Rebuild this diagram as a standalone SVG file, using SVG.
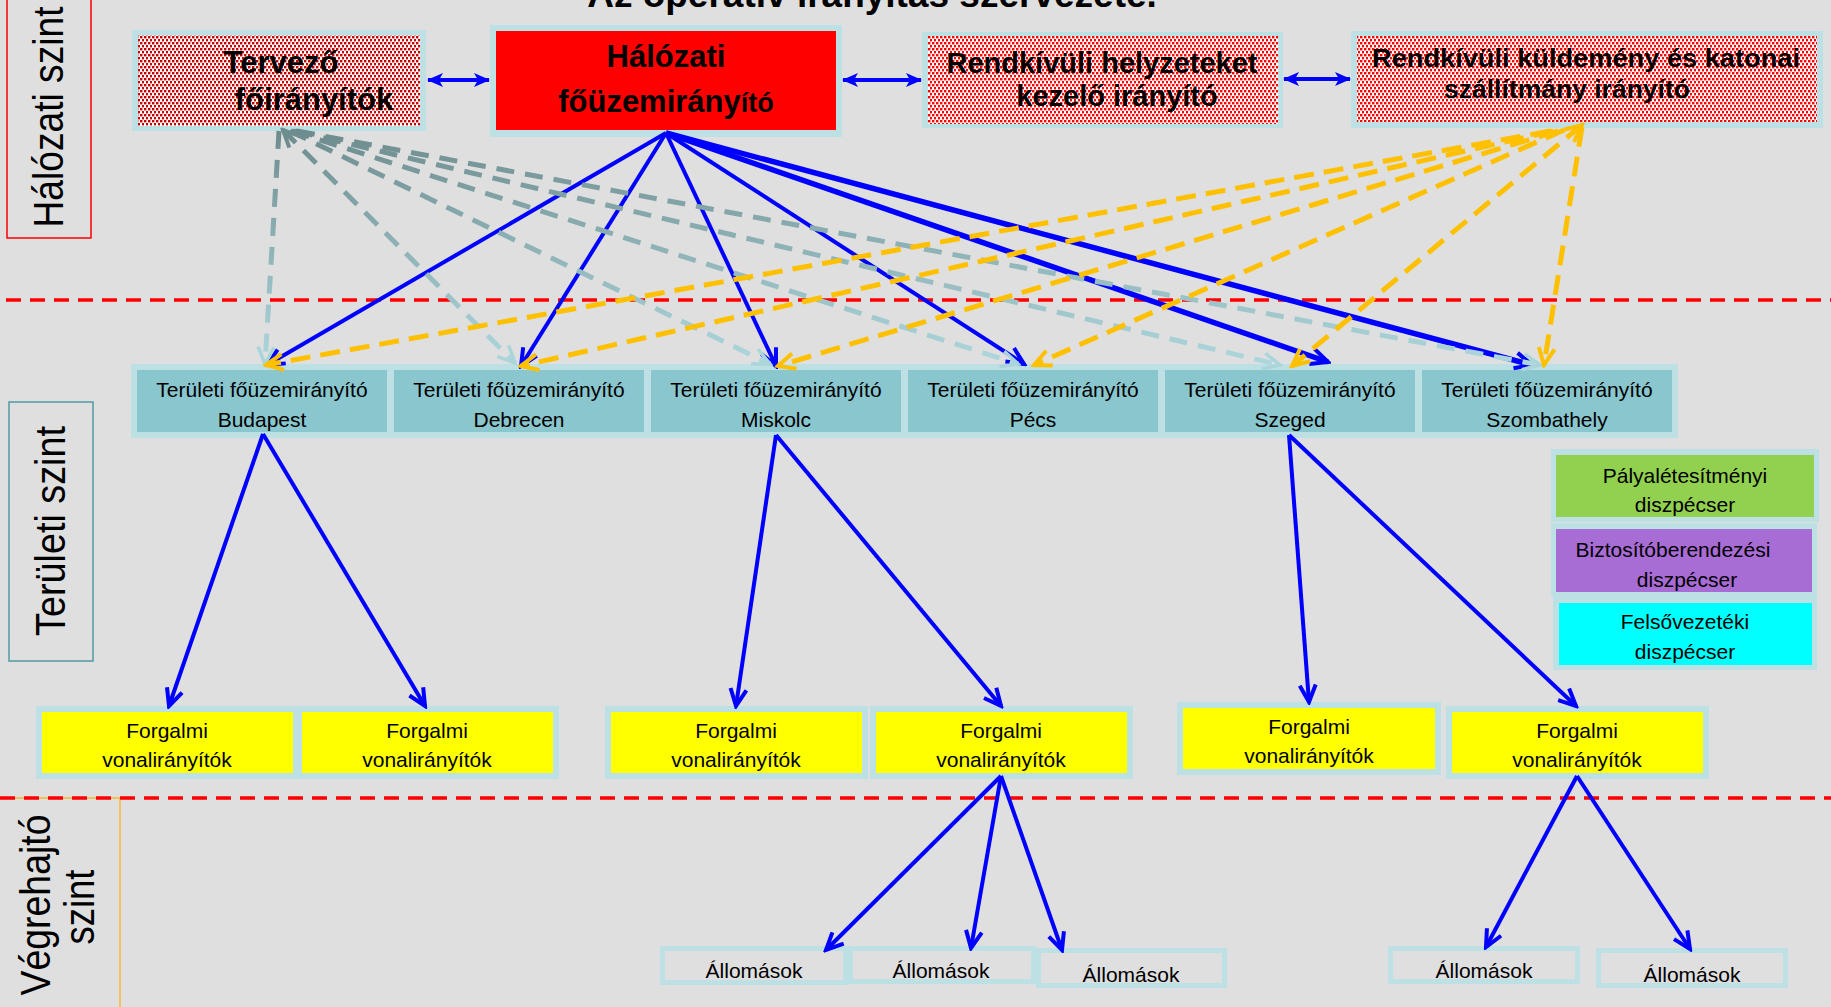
<svg xmlns="http://www.w3.org/2000/svg" width="1831" height="1007" viewBox="0 0 1831 1007">
<defs>
<style>
text{font-family:"Liberation Sans",Arial,sans-serif;fill:#000}
.b{font-weight:bold}
.t21{font-size:21px}
.bd{fill:#BDE0E4}
.lvl{fill:none;stroke:#FF0000;stroke-width:3.5;stroke-dasharray:15 9}
.blue{stroke:#0000FF;stroke-width:4;fill:none;marker-end:url(#ab)}
.blue5{stroke-width:5.5}
.dbl{stroke:#0000FF;stroke-width:4;marker-start:url(#af);marker-end:url(#af)}
.gr{fill:none;stroke-width:5;stroke-dasharray:18 11;marker-end:url(#ge)}
.gs{marker-start:url(#gs)}
.or{fill:none;stroke:#FFC000;stroke-width:5;stroke-dasharray:20 10;marker-end:url(#oe)}
.os{marker-start:url(#os)}
</style>
<pattern id="pd" width="4" height="6" patternUnits="userSpaceOnUse">
<rect width="4" height="6" fill="#FFFFFF"/><rect x="0" y="0" width="2.4" height="2.4" fill="#C80000"/><rect x="2" y="3" width="2.4" height="2.4" fill="#C80000"/>
</pattern>
<pattern id="pr" width="4" height="6" patternUnits="userSpaceOnUse">
<rect width="4" height="6" fill="#FFFFFF"/><rect x="0" y="0" width="2.4" height="2.4" fill="#FF0000"/><rect x="2" y="3" width="2.4" height="2.4" fill="#FF0000"/>
</pattern>
<marker id="ab" viewBox="0 0 22 20" refX="19" refY="10" markerWidth="22" markerHeight="20" markerUnits="userSpaceOnUse" orient="auto">
<path d="M2,2 L19,10 L2,18" fill="none" stroke="#0000FF" stroke-width="4" stroke-dasharray="none"/>
</marker>
<marker id="af" viewBox="0 0 16 16" refX="15" refY="8" markerWidth="16" markerHeight="16" markerUnits="userSpaceOnUse" orient="auto-start-reverse">
<path d="M0,1 L16,8 L0,15 L4,8 z" fill="#0000FF"/>
</marker>
<marker id="ge" viewBox="0 0 22 20" refX="19" refY="10" markerWidth="22" markerHeight="20" markerUnits="userSpaceOnUse" orient="auto">
<path d="M2,2 L19,10 L2,18" fill="none" stroke="#A9D5DB" stroke-width="3.5" stroke-dasharray="none"/>
</marker>
<marker id="gs" viewBox="0 0 22 20" refX="19" refY="10" markerWidth="22" markerHeight="20" markerUnits="userSpaceOnUse" orient="auto-start-reverse">
<path d="M2,2 L19,10 L2,18" fill="none" stroke="#6E8C8E" stroke-width="4" stroke-dasharray="none"/>
</marker>
<marker id="oe" viewBox="0 0 22 20" refX="19" refY="10" markerWidth="22" markerHeight="20" markerUnits="userSpaceOnUse" orient="auto">
<path d="M2,2 L19,10 L2,18" fill="none" stroke="#FFC000" stroke-width="4" stroke-dasharray="none"/>
</marker>
<marker id="os" viewBox="0 0 22 20" refX="19" refY="10" markerWidth="22" markerHeight="20" markerUnits="userSpaceOnUse" orient="auto-start-reverse">
<path d="M2,2 L19,10 L2,18" fill="none" stroke="#FFC000" stroke-width="4" stroke-dasharray="none"/>
</marker>
<linearGradient id="g1" gradientUnits="userSpaceOnUse" x1="279" y1="131" x2="265" y2="364"><stop offset="0" stop-color="#6E8C8E"/><stop offset="1" stop-color="#AED8DE"/></linearGradient>
<linearGradient id="g2" gradientUnits="userSpaceOnUse" x1="285" y1="131" x2="515" y2="363"><stop offset="0" stop-color="#6E8C8E"/><stop offset="1" stop-color="#AED8DE"/></linearGradient>
<linearGradient id="g3" gradientUnits="userSpaceOnUse" x1="290" y1="131" x2="770" y2="364"><stop offset="0" stop-color="#6E8C8E"/><stop offset="1" stop-color="#AED8DE"/></linearGradient>
<linearGradient id="g4" gradientUnits="userSpaceOnUse" x1="292" y1="131" x2="1018" y2="364"><stop offset="0" stop-color="#6E8C8E"/><stop offset="1" stop-color="#AED8DE"/></linearGradient>
<linearGradient id="g5" gradientUnits="userSpaceOnUse" x1="295" y1="131" x2="1280" y2="365"><stop offset="0" stop-color="#6E8C8E"/><stop offset="1" stop-color="#AED8DE"/></linearGradient>
<linearGradient id="g6" gradientUnits="userSpaceOnUse" x1="297" y1="131" x2="1540" y2="365"><stop offset="0" stop-color="#6E8C8E"/><stop offset="1" stop-color="#AED8DE"/></linearGradient>
</defs>

<rect width="1831" height="1007" fill="#DFDFDF"/>

<text class="b" x="872" y="7" font-size="37" text-anchor="middle">Az operatív irányítás szervezete.</text>

<g id="levels">
<line class="lvl" x1="6" y1="300" x2="1831" y2="300"/>
<rect x="-2" y="798" width="122" height="215" fill="none" stroke="#F5B731" stroke-width="1.5"/>
<line class="lvl" x1="0" y1="798" x2="1831" y2="798"/>
<rect x="7" y="-2" width="84" height="240" fill="none" stroke="#FF0000" stroke-width="1.5"/>
<text transform="translate(63,117) rotate(-90)" font-size="42" text-anchor="middle" textLength="221" lengthAdjust="spacingAndGlyphs">Hálózati szint</text>
<rect x="9" y="402" width="84" height="259" fill="none" stroke="#4F9AA3" stroke-width="1.5"/>
<text transform="translate(65,531) rotate(-90)" font-size="42" text-anchor="middle" textLength="210" lengthAdjust="spacingAndGlyphs">Területi szint</text>
<text transform="translate(50,905) rotate(-90)" font-size="42" text-anchor="middle" textLength="181" lengthAdjust="spacingAndGlyphs">Végrehajtó</text>
<text transform="translate(94,907) rotate(-90)" font-size="42" text-anchor="middle" textLength="75" lengthAdjust="spacingAndGlyphs">szint</text>
</g>

<g id="tervezo">
<rect class="bd" x="132" y="30" width="294" height="101"/>
<rect x="138" y="35" width="282" height="91" fill="url(#pd)"/>
<text class="b" x="281" y="73" font-size="31" text-anchor="middle">Tervező</text>
<text class="b" x="314" y="110" font-size="31" text-anchor="middle">főirányítók</text>
</g>
<g id="halozati">
<rect class="bd" x="490" y="25" width="352" height="112"/>
<rect x="496" y="31" width="340" height="99" fill="#FF0000"/>
<text class="b" x="666" y="67" font-size="31" text-anchor="middle">Hálózati</text>
<text class="b" x="666" y="112" font-size="31" text-anchor="middle">főüzemirány<tspan font-size="27">ító</tspan></text>
</g>
<g id="rendkivuli-helyzet">
<rect class="bd" x="922" y="32" width="361" height="96"/>
<rect x="928" y="36" width="350" height="88" fill="url(#pr)"/>
<text class="b" x="1102" y="73" font-size="29" text-anchor="middle">Rendkívüli helyzeteket</text>
<text class="b" x="1117" y="106" font-size="29" text-anchor="middle">kezelő irányító</text>
</g>
<g id="rendkivuli-kuldemeny">
<rect class="bd" x="1351" y="31" width="472" height="97"/>
<rect x="1357" y="36" width="460" height="86" fill="url(#pr)"/>
<text class="b" x="1586" y="67" font-size="26.5" text-anchor="middle" textLength="428" lengthAdjust="spacingAndGlyphs">Rendkívüli küldemény és katonai</text>
<text class="b" x="1567" y="98" font-size="26.5" text-anchor="middle">szállítmány irányító</text>
</g>

<g id="ter-budapest">
<rect class="bd" x="131" y="364" width="262" height="74"/><rect x="137" y="370" width="250" height="62" fill="#89C6CE"/>
<text class="t21" x="262" y="397" text-anchor="middle">Területi főüzemirányító</text><text class="t21" x="262" y="427" text-anchor="middle">Budapest</text>
</g>
<g id="ter-debrecen">
<rect class="bd" x="388" y="364" width="262" height="74"/><rect x="394" y="370" width="250" height="62" fill="#89C6CE"/>
<text class="t21" x="519" y="397" text-anchor="middle">Területi főüzemirányító</text><text class="t21" x="519" y="427" text-anchor="middle">Debrecen</text>
</g>
<g id="ter-miskolc">
<rect class="bd" x="645" y="364" width="262" height="74"/><rect x="651" y="370" width="250" height="62" fill="#89C6CE"/>
<text class="t21" x="776" y="397" text-anchor="middle">Területi főüzemirányító</text><text class="t21" x="776" y="427" text-anchor="middle">Miskolc</text>
</g>
<g id="ter-pecs">
<rect class="bd" x="902" y="364" width="262" height="74"/><rect x="908" y="370" width="250" height="62" fill="#89C6CE"/>
<text class="t21" x="1033" y="397" text-anchor="middle">Területi főüzemirányító</text><text class="t21" x="1033" y="427" text-anchor="middle">Pécs</text>
</g>
<g id="ter-szeged">
<rect class="bd" x="1159" y="364" width="262" height="74"/><rect x="1165" y="370" width="250" height="62" fill="#89C6CE"/>
<text class="t21" x="1290" y="397" text-anchor="middle">Területi főüzemirányító</text><text class="t21" x="1290" y="427" text-anchor="middle">Szeged</text>
</g>
<g id="ter-szombathely">
<rect class="bd" x="1416" y="364" width="262" height="74"/><rect x="1422" y="370" width="250" height="62" fill="#89C6CE"/>
<text class="t21" x="1547" y="397" text-anchor="middle">Területi főüzemirányító</text><text class="t21" x="1547" y="427" text-anchor="middle">Szombathely</text>
</g>

<g id="leg-palya">
<rect class="bd" x="1551" y="449" width="268" height="73"/><rect x="1556" y="455" width="258" height="62" fill="#92D050"/>
<text class="t21" x="1685" y="483" text-anchor="middle">Pályalétesítményi</text><text class="t21" x="1685" y="512" text-anchor="middle">diszpécser</text>
</g>
<g id="leg-bizt">
<rect class="bd" x="1551" y="523" width="266" height="74"/><rect x="1556" y="529" width="256" height="63" fill="#A86CD5"/>
<text class="t21" x="1673" y="557" text-anchor="middle">Biztosítóberendezési</text><text class="t21" x="1687" y="587" text-anchor="middle">diszpécser</text>
</g>
<g id="leg-felso">
<rect class="bd" x="1553" y="597" width="264" height="73"/><rect x="1559" y="603" width="253" height="62" fill="#00FFFF"/>
<text class="t21" x="1685" y="629" text-anchor="middle">Felsővezetéki</text><text class="t21" x="1685" y="659" text-anchor="middle">diszpécser</text>
</g>

<g id="forg-1"><rect class="bd" x="36" y="706" width="263" height="73"/><rect x="42" y="712" width="251" height="61" fill="#FFFF00"/>
<text class="t21" x="167" y="738" text-anchor="middle">Forgalmi</text><text class="t21" x="167" y="767" text-anchor="middle">vonalirányítók</text></g>
<g id="forg-2"><rect class="bd" x="296" y="706" width="263" height="73"/><rect x="302" y="712" width="251" height="61" fill="#FFFF00"/>
<text class="t21" x="427" y="738" text-anchor="middle">Forgalmi</text><text class="t21" x="427" y="767" text-anchor="middle">vonalirányítók</text></g>
<g id="forg-3"><rect class="bd" x="605" y="706" width="263" height="73"/><rect x="611" y="712" width="251" height="61" fill="#FFFF00"/>
<text class="t21" x="736" y="738" text-anchor="middle">Forgalmi</text><text class="t21" x="736" y="767" text-anchor="middle">vonalirányítók</text></g>
<g id="forg-4"><rect class="bd" x="870" y="706" width="263" height="73"/><rect x="876" y="712" width="251" height="61" fill="#FFFF00"/>
<text class="t21" x="1001" y="738" text-anchor="middle">Forgalmi</text><text class="t21" x="1001" y="767" text-anchor="middle">vonalirányítók</text></g>
<g id="forg-5"><rect class="bd" x="1177" y="702" width="264" height="73"/><rect x="1183" y="708" width="252" height="61" fill="#FFFF00"/>
<text class="t21" x="1309" y="734" text-anchor="middle">Forgalmi</text><text class="t21" x="1309" y="763" text-anchor="middle">vonalirányítók</text></g>
<g id="forg-6"><rect class="bd" x="1446" y="706" width="263" height="73"/><rect x="1452" y="712" width="251" height="61" fill="#FFFF00"/>
<text class="t21" x="1577" y="738" text-anchor="middle">Forgalmi</text><text class="t21" x="1577" y="767" text-anchor="middle">vonalirányítók</text></g>

<g id="all-1"><rect class="bd" x="660" y="946" width="188" height="39"/><rect x="665" y="951" width="178" height="29" fill="#DFDFDF"/><text class="t21" x="754" y="978" text-anchor="middle">Állomások</text></g>
<g id="all-2"><rect class="bd" x="848" y="946" width="188" height="38"/><rect x="853" y="951" width="178" height="28" fill="#DFDFDF"/><text class="t21" x="941" y="978" text-anchor="middle">Állomások</text></g>
<g id="all-3"><rect class="bd" x="1036" y="948" width="191" height="40"/><rect x="1041" y="953" width="181" height="30" fill="#DFDFDF"/><text class="t21" x="1131" y="982" text-anchor="middle">Állomások</text></g>
<g id="all-4"><rect class="bd" x="1388" y="946" width="192" height="38"/><rect x="1393" y="951" width="182" height="28" fill="#DFDFDF"/><text class="t21" x="1484" y="978" text-anchor="middle">Állomások</text></g>
<g id="all-5"><rect class="bd" x="1596" y="948" width="192" height="40"/><rect x="1601" y="953" width="182" height="30" fill="#DFDFDF"/><text class="t21" x="1692" y="982" text-anchor="middle">Állomások</text></g>

<g id="connectors">
<line class="dbl" x1="428" y1="80" x2="489" y2="80"/>
<line class="dbl" x1="843" y1="80" x2="921" y2="80"/>
<line class="dbl" x1="1284" y1="79" x2="1350" y2="79"/>

<line class="blue" x1="666" y1="133" x2="267" y2="365"/>
<line class="blue" x1="666" y1="133" x2="521" y2="366"/>
<line class="blue" x1="666" y1="133" x2="776" y2="366"/>
<line class="blue" x1="666" y1="133" x2="1024" y2="364"/>
<line class="blue blue5" x1="666" y1="133" x2="1328" y2="362"/>
<line class="blue blue5" x1="666" y1="133" x2="1532" y2="365"/>

<line class="gr" stroke="url(#g1)" stroke-width="3.5" x1="279" y1="131" x2="265" y2="364"/>
<line class="gr gs" stroke="url(#g2)" x1="283" y1="130" x2="515" y2="363"/>
<line class="gr" stroke="url(#g3)" x1="290" y1="131" x2="770" y2="364"/>
<line class="gr" stroke="url(#g4)" x1="292" y1="131" x2="1018" y2="364"/>
<line class="gr" stroke="url(#g5)" x1="295" y1="131" x2="1280" y2="365"/>
<line class="gr" stroke="url(#g6)" x1="297" y1="131" x2="1540" y2="365"/>

<line class="or" x1="1550" y1="131" x2="266" y2="365"/>
<line class="or" x1="1553" y1="131" x2="521" y2="366"/>
<line class="or" x1="1558" y1="131" x2="778" y2="366"/>
<line class="or" x1="1564" y1="130" x2="1034" y2="365"/>
<line class="or os" x1="1582" y1="125" x2="1292" y2="366"/>
<line class="or" stroke-width="3.5" x1="1582" y1="127" x2="1544" y2="365"/>

<line class="blue" x1="263" y1="434" x2="169" y2="706"/>
<line class="blue" x1="263" y1="434" x2="425" y2="706"/>
<line class="blue" x1="776" y1="435" x2="736" y2="706"/>
<line class="blue" x1="776" y1="435" x2="1001" y2="706"/>
<line class="blue" x1="1289" y1="435" x2="1309" y2="702"/>
<line class="blue" x1="1289" y1="435" x2="1576" y2="706"/>

<line class="blue" x1="1001" y1="776" x2="826" y2="950"/>
<line class="blue" x1="1001" y1="776" x2="971" y2="948"/>
<line class="blue" x1="1001" y1="776" x2="1062" y2="950"/>
<line class="blue" x1="1577" y1="776" x2="1486" y2="947"/>
<line class="blue" x1="1577" y1="776" x2="1690" y2="949"/>
</g>
</svg>
